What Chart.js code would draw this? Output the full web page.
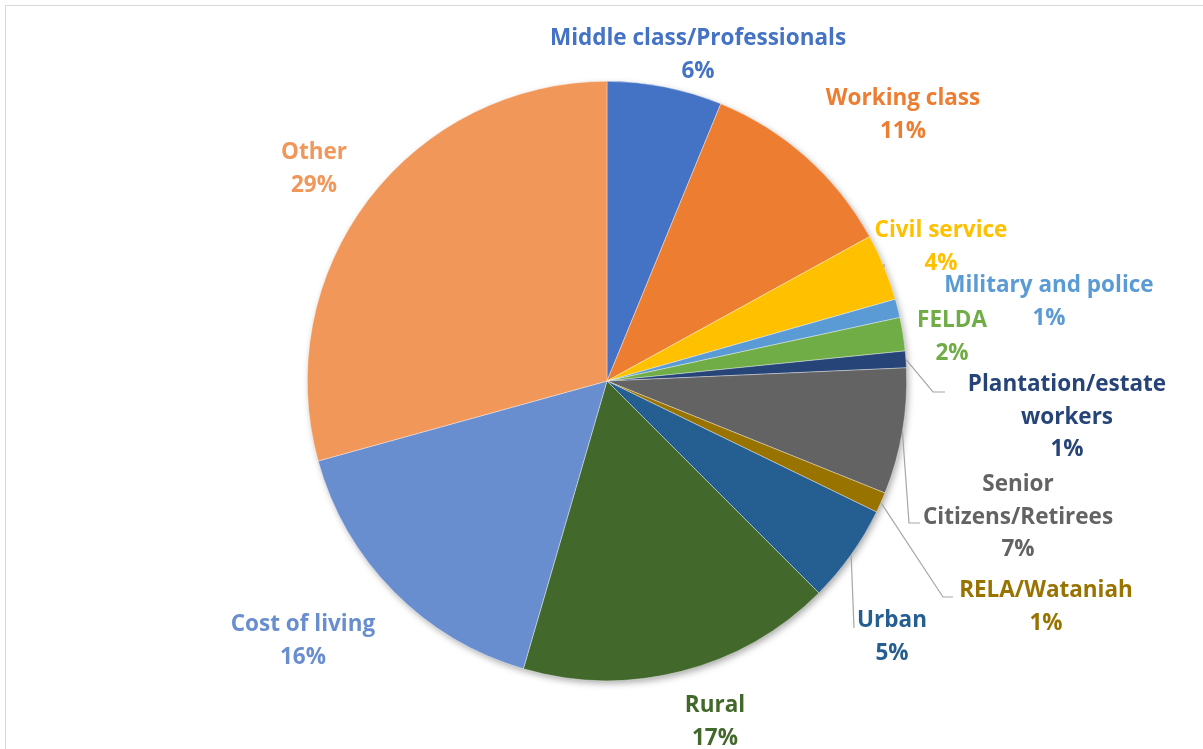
<!DOCTYPE html>
<html>
<head>
<meta charset="utf-8">
<script src="https://cdn.jsdelivr.net/npm/chart.js@4.4.1/dist/chart.umd.min.js"></script>
<style>
  html, body { margin: 0; padding: 0; background: #fff; }
  #wrap { position: relative; width: 1203px; height: 749px; overflow: hidden; }
  #frame { position: absolute; left: 5px; top: 5px; width: 1300px; height: 900px; border: 1.5px solid #d9d9d9; box-sizing: border-box; }
  canvas { position: absolute; left: 0; top: 0; }
</style>
</head>
<body>
<div id="wrap">
  <div id="frame"></div>
  <canvas id="c" width="1203" height="749"></canvas>
</div>
<script>
const categories = ["Middle class/Professionals", "Working class", "Civil service", "Military and police", "FELDA", "Plantation/estate workers", "Senior Citizens/Retirees", "RELA/Wataniah", "Urban", "Rural", "Cost of living", "Other"];
const labelLines = [["Middle class/Professionals"], ["Working class"], ["Civil service"], ["Military and police"], ["FELDA"], ["Plantation/estate", "workers"], ["Senior", "Citizens/Retirees"], ["RELA/Wataniah"], ["Urban"], ["Rural"], ["Cost of living"], ["Other"]];
const values = [6.2, 10.8, 3.6, 1.0, 1.8, 0.9, 6.8, 1.1, 5.3, 17.0, 16.2, 29.3];
const colors = ["#4472C4", "#ED7D31", "#FFC000", "#5B9BD5", "#70AD47", "#264478", "#636363", "#997300", "#255E91", "#43682B", "#698ED0", "#F1975A"];

// label layout (centre x, first line y) and leader line elbows
const labelPos = [[698, 39], [903, 99], [941, 231], [1049, 286], [952, 321], [1067, 385], [1018, 485], [1046, 591], [892, 621], [715, 706], [303, 625], [314, 153]];
const leaders = {
  2: [[884, 264]],
  5: [[933, 392], [945, 392]],
  6: [[909, 523], [920, 523]],
  7: [[943, 597], [953, 597]],
  8: [[854, 628]]
};
const lineH = 32.5;

const shadowPlugin = {
  id: 'pieShadow',
  beforeDatasetsDraw(chart) {
    const arc = chart.getDatasetMeta(0).data[0];
    if (!arc) return;
    const ctx = chart.ctx;
    ctx.save();
    ctx.shadowColor = 'rgba(0,0,0,0.35)';
    ctx.shadowBlur = 7;
    ctx.shadowOffsetX = 2;
    ctx.shadowOffsetY = 3;
    ctx.fillStyle = '#ffffff';
    ctx.beginPath();
    ctx.arc(arc.x, arc.y, arc.outerRadius - 0.5, 0, Math.PI * 2);
    ctx.fill();
    ctx.restore();
  }
};

const labelPlugin = {
  id: 'pieLabels',
  afterDatasetsDraw(chart) {
    const ctx = chart.ctx;
    const meta = chart.getDatasetMeta(0);
    const data = chart.data.datasets[0].data;
    const total = data.reduce((a, b) => a + b, 0);
    ctx.save();
    // leader lines
    ctx.strokeStyle = '#a6a6a6';
    ctx.lineWidth = 1.2;
    Object.keys(leaders).forEach(k => {
      const i = +k;
      const a = meta.data[i];
      const mid = (a.startAngle + a.endAngle) / 2;
      const r = a.outerRadius;
      ctx.beginPath();
      ctx.moveTo(a.x + Math.cos(mid) * r, a.y + Math.sin(mid) * r);
      leaders[k].forEach(p => ctx.lineTo(p[0], p[1]));
      ctx.stroke();
    });
    ctx.font = 'bold 22.5px "Open Sans", Lato, sans-serif';
    ctx.textAlign = 'center';
    ctx.textBaseline = 'middle';
    meta.data.forEach((a, i) => {
      const [x, y] = labelPos[i];
      ctx.fillStyle = colors[i];
      const lines = labelLines[i].concat([Math.round(data[i] / total * 100) + '%']);
      lines.forEach((t, j) => ctx.fillText(t, x, y + j * lineH));
    });
    ctx.restore();
  }
};

new Chart(document.getElementById('c'), {
  type: 'pie',
  data: {
    labels: categories,
    datasets: [{
      data: values,
      backgroundColor: colors,
      borderColor: 'rgba(255,255,255,0.6)',
      borderWidth: 0.6
    }]
  },
  options: {
    responsive: false,
    animation: false,
    layout: { padding: { left: 307, right: 296, top: 81, bottom: 68 } },
    plugins: { legend: { display: false }, tooltip: { enabled: false } }
  },
  plugins: [shadowPlugin, labelPlugin]
});
</script>
</body>
</html>
